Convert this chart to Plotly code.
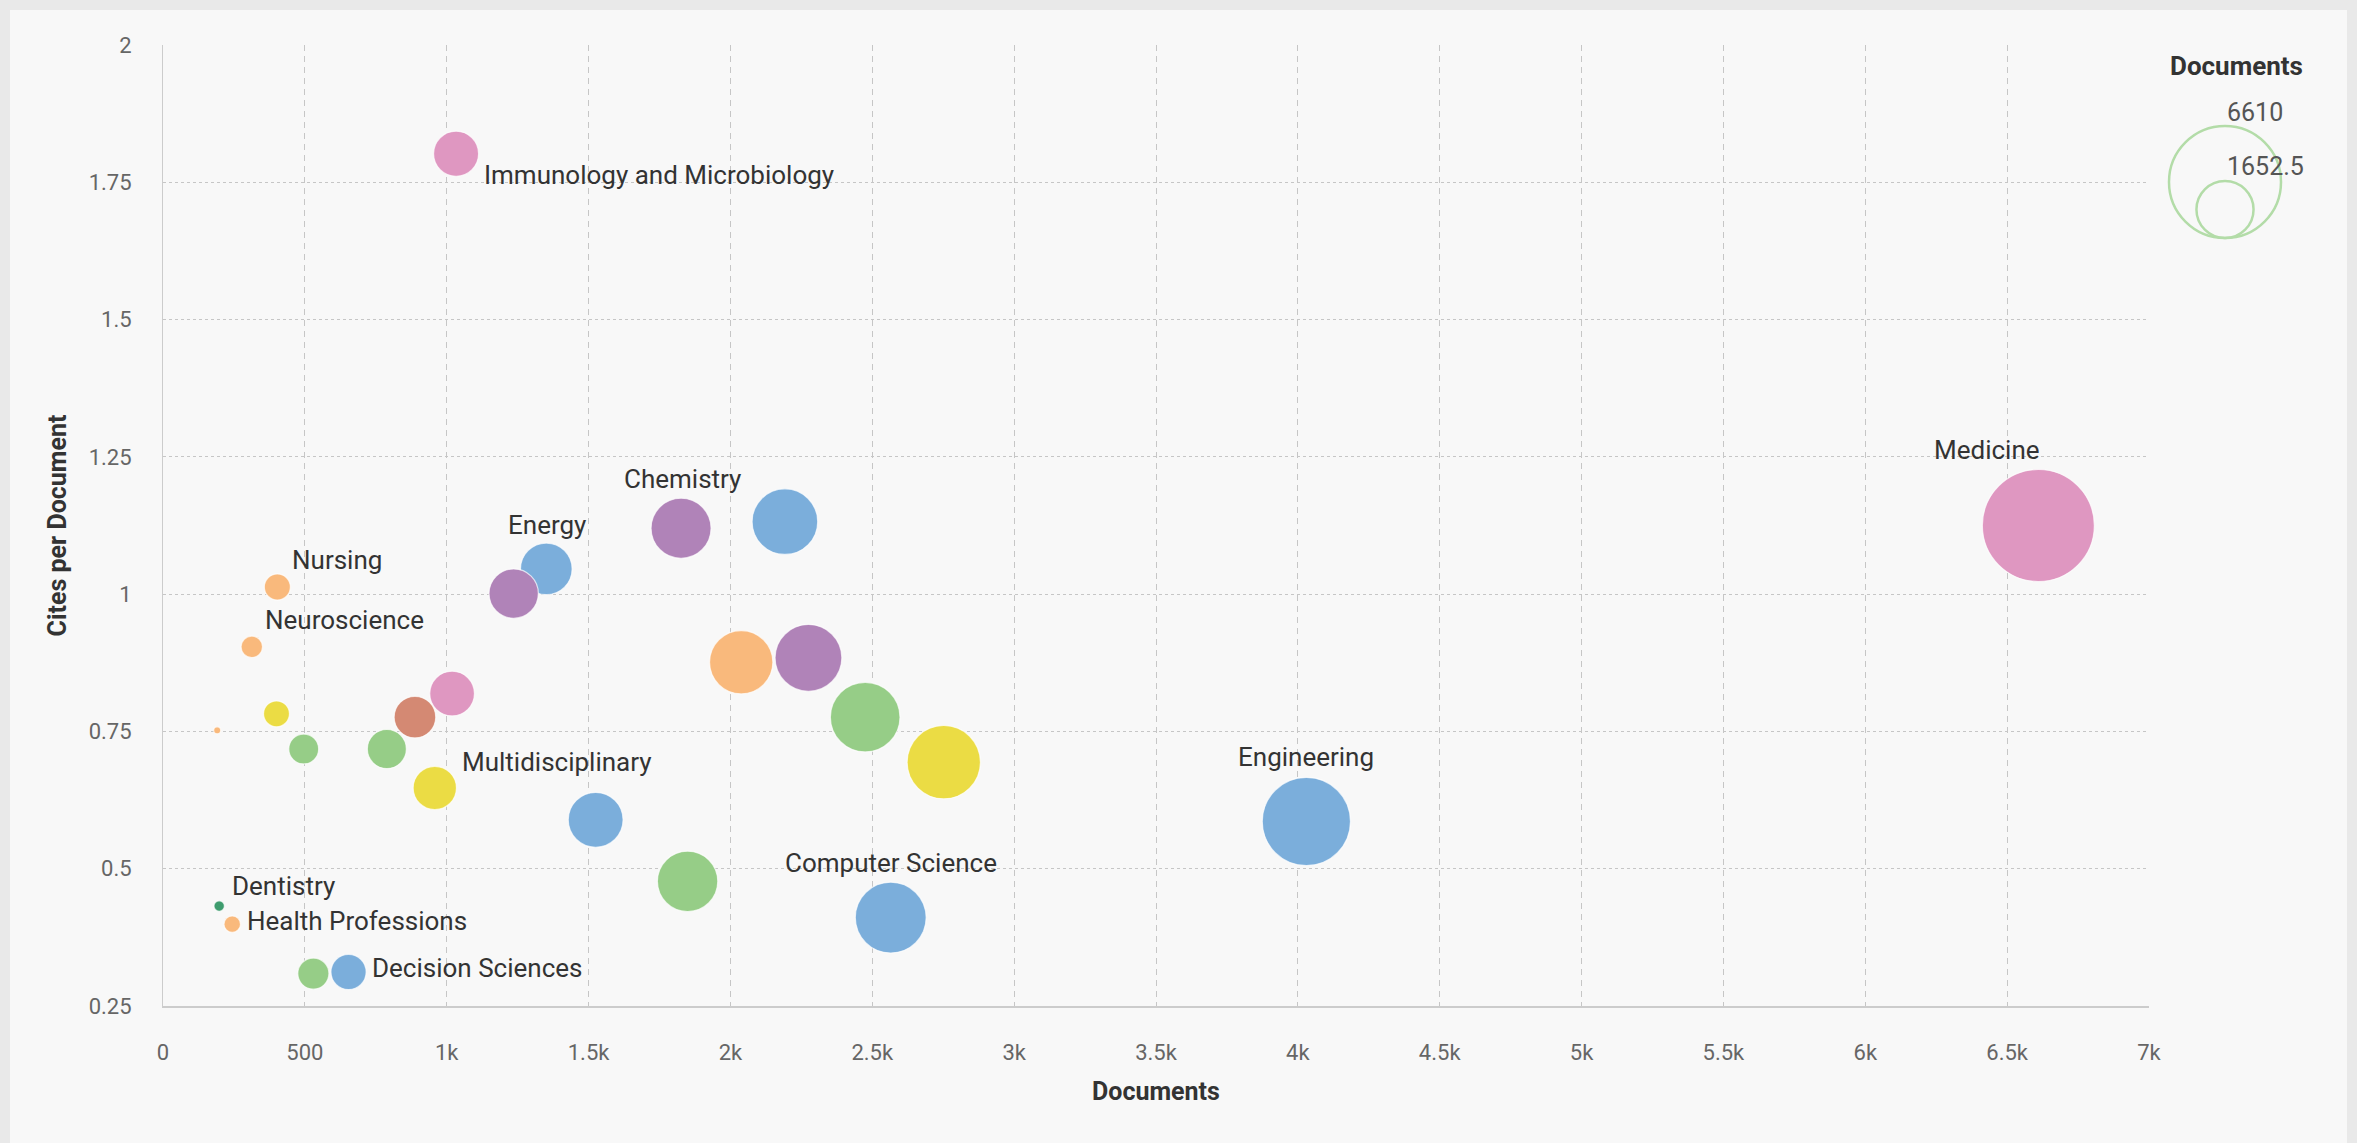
import numpy as np
import plotly.graph_objects as go

# ---------------- data ----------------
labels = [
    "Immunology and Microbiology", "Chemistry", "", "Energy", "", "Nursing",
    "Neuroscience", "", "", "", "", "", "", "", "", "", "",
    "Multidisciplinary", "", "", "Computer Science", "Engineering", "Medicine",
    "Dentistry", "Health Professions", "", "Decision Sciences",
]
documents = [
    1033, 1826, 2192, 1351, 1236, 403,
    313, 2038, 2275, 1019, 888, 400, 191, 496, 789, 2475, 2752,
    958, 1525, 1849, 2565, 4030, 6610,
    198, 244, 530, 654,
]
cites_per_doc = [
    1.802, 1.120, 1.132, 1.046, 1.001, 1.013,
    0.904, 0.876, 0.884, 0.819, 0.776, 0.782, 0.752, 0.718, 0.718, 0.776, 0.694,
    0.647, 0.589, 0.477, 0.411, 0.586, 1.125,
    0.432, 0.399, 0.309, 0.312,
]
x_tick_vals = [0, 500, 1000, 1500, 2000, 2500, 3000, 3500, 4000, 4500, 5000, 5500, 6000, 6500, 7000]
x_tick_text = ["0", "500", "1k", "1.5k", "2k", "2.5k", "3k", "3.5k", "4k", "4.5k", "5k", "5.5k", "6k", "6.5k", "7k"]
y_tick_vals = [0.25, 0.5, 0.75, 1, 1.25, 1.5, 1.75, 2]
y_tick_text = ["0.25", "0.5", "0.75", "1", "1.25", "1.5", "1.75", "2"]

# ---------------- styles ----------------
PINK, BLUE, PURPLE, ORANGE = "#DF97C1", "#7BAEDB", "#B083B8", "#F9B97C"
GREEN, YELLOW, BROWN, DKGREEN = "#96CD87", "#EBDC44", "#D48973", "#3E9C6E"
colors = [
    PINK, PURPLE, BLUE, BLUE, PURPLE, ORANGE,
    ORANGE, ORANGE, PURPLE, PINK, BROWN, YELLOW, ORANGE, GREEN, GREEN, GREEN, YELLOW,
    YELLOW, BLUE, GREEN, BLUE, BLUE, PINK,
    DKGREEN, ORANGE, GREEN, BLUE,
]
# label placement: (xanchor, xshift px, yshift px)
label_style = {
    "Immunology and Microbiology": ("left", 26, -21),
    "Chemistry": ("center", 1, 49),
    "Energy": ("center", 1, 44),
    "Nursing": ("left", 13, 27),
    "Neuroscience": ("left", 11, 27),
    "Multidisciplinary": ("left", 25, 26),
    "Dentistry": ("left", 11, 20),
    "Health Professions": ("left", 13, 3),
    "Decision Sciences": ("left", 21, 4),
    "Computer Science": ("center", 0, 55),
    "Engineering": ("center", 0, 64),
    "Medicine": ("center", -51, 76),
}

W, H = 2357, 1143
ML, MR, MT, MB = 163, 208, 45, 137
PW, PH = W - ML - MR, H - MT - MB
FONT = "Roboto, 'Open Sans', sans-serif"

MIN_D, MAX_D = 7, 112
zmin, zmax = min(documents), max(documents)


def bubble_size(z):
    return MIN_D + np.sqrt(max(z - zmin, 0) / (zmax - zmin)) * (MAX_D - MIN_D)


sizes = [bubble_size(z) for z in documents]


def px_to_paper(px, py):
    return (px - ML) / PW, (H - MB - py) / PH


fig = go.Figure()
fig.add_trace(go.Scatter(
    x=documents, y=cites_per_doc, mode="markers",
    text=labels,
    marker=dict(size=sizes, sizemode="diameter", color=colors, opacity=1,
                line=dict(width=1.2, color="rgba(255,255,255,0.7)")),
    hovertemplate="%{text}<br>Documents: %{x}<br>Cites per Document: %{y}<extra></extra>",
    showlegend=False,
))

annotations = []
for name, xv, yv in zip(labels, documents, cites_per_doc):
    if name and name in label_style:
        xa, xs, ys = label_style[name]
        annotations.append(dict(
            x=xv, y=yv, xref="x", yref="y", text=name, showarrow=False,
            xanchor=xa, yanchor="middle", xshift=xs, yshift=ys,
            font=dict(family=FONT, size=26, color="#333333"),
        ))

# bubble size legend
leg_cx, leg_bottom = px_to_paper(2225, 238)
leg_title_x, leg_title_y = px_to_paper(2236, 66)
annotations.append(dict(x=leg_title_x, y=leg_title_y, xref="paper", yref="paper",
                        text="<b>Documents</b>", showarrow=False, xanchor="center", yanchor="middle",
                        font=dict(family=FONT, size=26, color="#333333")))
shapes = []
card_x0, card_y0 = px_to_paper(10, H)
card_x1, card_y1 = px_to_paper(2347, 10)
shapes.append(dict(type="rect", xref="paper", yref="paper", x0=card_x0, x1=card_x1,
                   y0=card_y0, y1=card_y1, fillcolor="#F8F8F8", line=dict(width=0), layer="below"))
for val in [zmax, zmax / 4]:
    d = bubble_size(val)
    shapes.append(dict(type="circle", xref="paper", yref="paper",
                       xsizemode="pixel", ysizemode="pixel",
                       xanchor=leg_cx, yanchor=leg_bottom,
                       x0=-d / 2, x1=d / 2, y0=0, y1=d,
                       line=dict(color="#B3DCA8", width=2.5), fillcolor="rgba(0,0,0,0)"))
    annotations.append(dict(x=leg_cx, y=leg_bottom, xref="paper", yref="paper",
                            text=f"{val:g}", showarrow=False, xanchor="left", yanchor="middle",
                            xshift=0, yshift=d + 14,
                            font=dict(family=FONT, size=25, color="#555555")))

fig.update_layout(
    width=W, height=H, autosize=False,
    margin=dict(l=ML, r=MR, t=MT, b=MB, pad=0),
    paper_bgcolor="#E9E9E9", plot_bgcolor="#F8F8F8",
    font=dict(family=FONT, color="#666666"),
    annotations=annotations, shapes=shapes,
    xaxis=dict(
        range=[0, 7000], tickvals=x_tick_vals, ticktext=x_tick_text,
        showgrid=True, gridcolor="#C6C6C6", griddash="6px,5px", gridwidth=1.4,
        zeroline=False, showline=True, linecolor="#CCCCCC", linewidth=2,
        ticks="", tickfont=dict(size=22, color="#666666"), ticklabelstandoff=26,
        title=dict(text="<b>Documents</b>", font=dict(size=25, color="#333333"), standoff=18),
        automargin=False,
    ),
    yaxis=dict(
        range=[0.25, 2], tickvals=y_tick_vals, ticktext=y_tick_text,
        showgrid=True, gridcolor="#C6C6C6", griddash="3px,3px", gridwidth=1.4,
        zeroline=False, showline=True, linecolor="#CCCCCC", linewidth=1,
        ticks="", tickfont=dict(size=22, color="#666666"), ticklabelstandoff=26,
        title=dict(text="<b>Cites per Document</b>", font=dict(size=25, color="#333333"), standoff=14),
        automargin=False,
    ),
)

fig.write_html("out.html", config={"displayModeBar": False},
               post_script="document.body.style.margin='0';document.body.style.overflow='hidden';")
